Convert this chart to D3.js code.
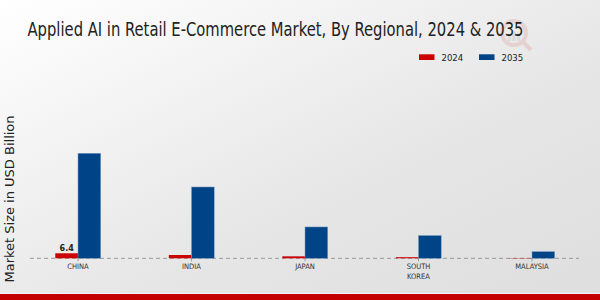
<!DOCTYPE html>
<html><head><meta charset="utf-8">
<script src="https://cdn.jsdelivr.net/npm/d3@7"></script>
<style>html,body{margin:0;padding:0;overflow:hidden}svg{display:block}</style>
</head><body>
<script>
const categories = ["CHINA", "INDIA", "JAPAN", "SOUTH KOREA", "MALAYSIA"];
const seriesNames = ["2024", "2035"];
const values2024 = [6.4, 4.2, 2.5, 1.4, 0.4];
const values2035 = [134, 91, 40, 29, 8.5];
const colors = ["#cc0000", "#004488"];
const title = "Applied AI in Retail E-Commerce Market, By Regional, 2024 & 2035";
const yLabel = "Market Size in USD Billion";

const W = 600, H = 300;
const svg = d3.select("body").append("svg").attr("width", W).attr("height", H);
const defs = svg.append("defs");
const g = defs.append("linearGradient").attr("id", "bg").attr("x1", "0").attr("y1", "0").attr("x2", "1").attr("y2", "1");
g.append("stop").attr("offset", "0").attr("stop-color", "#ffffff");
g.append("stop").attr("offset", "0.6").attr("stop-color", "#e6e6e6");
g.append("stop").attr("offset", "1").attr("stop-color", "#dedede");
svg.append("rect").attr("width", W).attr("height", H).attr("fill", "url(#bg)");

// watermark
const wm = svg.append("g").attr("opacity", 0.1).attr("transform", "translate(514,33)");
wm.append("circle").attr("r", 12).attr("fill", "none").attr("stroke", "#cc0000").attr("stroke-width", 4);
wm.append("line").attr("x1", 9).attr("y1", 9).attr("x2", 17).attr("y2", 17).attr("stroke", "#cc0000").attr("stroke-width", 4);
wm.selectAll("rect.w").data([6, 10, 8]).join("rect").attr("x", (d, i) => -6 + i * 4.5).attr("y", d => 8 - d).attr("width", 3).attr("height", d => d).attr("fill", "#555");

const x0 = d3.scaleBand().domain(categories).range([21.25, 588.75]).paddingInner(0.6).paddingOuter(0.3);
const x1 = d3.scaleBand().domain(seriesNames).range([0, x0.bandwidth()]);
const y = d3.scaleLinear().domain([0, 134]).range([258.3, 153.3]);

// baseline dashed
svg.append("line").attr("x1", 30).attr("x2", 579).attr("y1", y(0)).attr("y2", y(0))
  .attr("stroke", "#999").attr("stroke-width", 1).attr("stroke-dasharray", "4,3");

const rows = categories.map((c, i) => ({ cat: c, vals: [values2024[i], values2035[i]] }));
const grp = svg.selectAll("g.cat").data(rows).join("g").attr("transform", d => `translate(${x0(d.cat)},0)`);
grp.selectAll("rect").data(d => d.vals.map((v, j) => ({ s: seriesNames[j], v, j })))
  .join("rect")
  .attr("x", d => x1(d.s)).attr("width", x1.bandwidth())
  .attr("y", d => y(d.v)).attr("height", d => y(0) - y(d.v))
  .attr("fill", d => colors[d.j])
  .attr("stroke", d => d.j === 1 ? "#7a9cc0" : "none").attr("stroke-width", 0.5);

// value label
svg.append("text").attr("x", x0("CHINA") + x1("2024") + x1.bandwidth() / 2).attr("y", y(values2024[0]) - 2.5)
  .attr("text-anchor", "middle").attr("font-family", "DejaVu Sans, sans-serif").attr("font-weight", "bold")
  .attr("font-size", 8).attr("fill", "#222").text(values2024[0]);

// x axis ticks & labels
const xa = svg.append("g");
categories.forEach(c => {
  const cx = x0(c) + x0.bandwidth() / 2;
  xa.append("line").attr("x1", cx).attr("x2", cx).attr("y1", y(0)).attr("y2", y(0) + 3).attr("stroke", "#888").attr("stroke-width", 0.8);
  const words = c === "SOUTH KOREA" ? ["SOUTH", "KOREA"] : [c];
  words.forEach((w, k) => {
    xa.append("text").attr("x", cx).attr("y", 269 + k * 9.5).attr("text-anchor", "middle")
      .attr("font-family", "DejaVu Sans Condensed, Liberation Sans Narrow, sans-serif").attr("font-size", 7.5)
      .attr("fill", "#333").text(w);
  });
});

// title
svg.append("text").attr("x", 27.5).attr("y", 36).attr("font-family", "DejaVu Sans Condensed, DejaVu Sans, sans-serif")
  .attr("font-size", 20).attr("fill", "#222").attr("textLength", 496).attr("lengthAdjust", "spacingAndGlyphs").text(title);

// y label
svg.append("text").attr("transform", "translate(14,199) rotate(-90)").attr("text-anchor", "middle")
  .attr("font-family", "DejaVu Sans, sans-serif").attr("font-size", 13).attr("fill", "#222").text(yLabel);

// legend
const leg = svg.append("g");
const legX = [419, 479];
seriesNames.forEach((s, i) => {
  leg.append("rect").attr("x", legX[i]).attr("y", 54.3).attr("width", 15.5).attr("height", 5.7).attr("fill", colors[i]);
  leg.append("text").attr("x", legX[i] + 22.5).attr("y", 61).attr("font-family", "DejaVu Sans Condensed, DejaVu Sans, sans-serif")
    .attr("font-size", 9.5).attr("fill", "#222").text(s);
});

// bottom band
svg.append("rect").attr("x", 0).attr("y", 293).attr("width", W).attr("height", 1).attr("fill", "#f2f2f2");
svg.append("rect").attr("x", 0).attr("y", 294).attr("width", W).attr("height", 6).attr("fill", "#c40000");
</script>
</body></html>
